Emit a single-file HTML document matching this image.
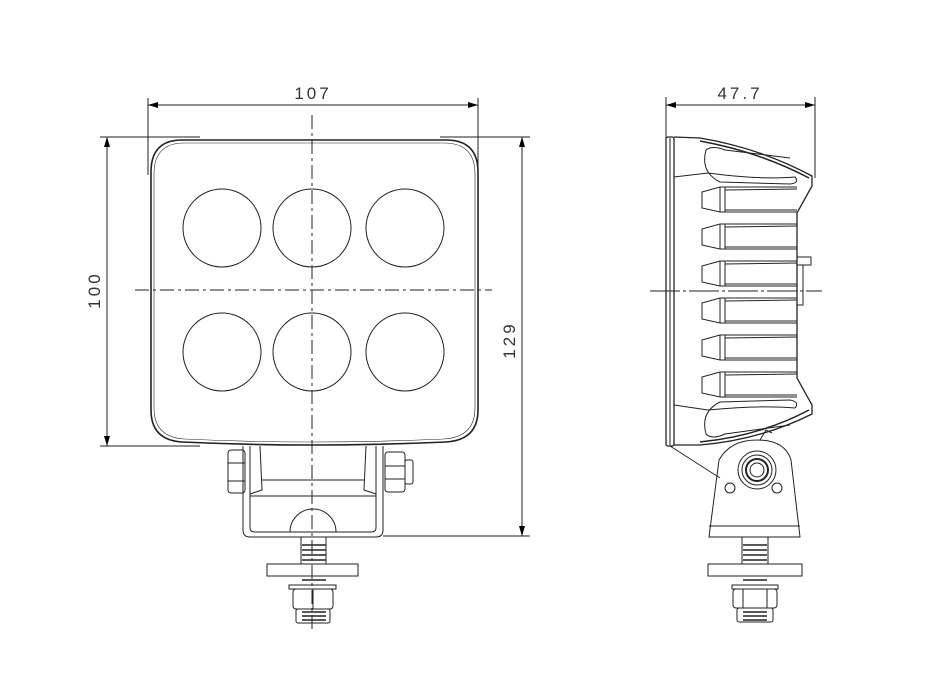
<!DOCTYPE html>
<html><head><meta charset="utf-8"><style>html,body{margin:0;padding:0;background:#fff}svg{display:block}</style></head>
<body>
<svg width="940" height="683" viewBox="0 0 940 683" xmlns="http://www.w3.org/2000/svg" font-family="Liberation Sans, sans-serif">
<defs><marker id="a" viewBox="0 0 10 6" refX="10" refY="3" markerWidth="14" markerHeight="6" orient="auto-start-reverse" markerUnits="userSpaceOnUse"><path d="M0,0L10,3L0,6z" fill="#000"/></marker></defs>
<g stroke="#222" fill="none" stroke-width="1">
<!-- front dims -->
<line x1="148" y1="98" x2="148" y2="175"/><line x1="478" y1="98" x2="478" y2="175"/>
<line x1="148" y1="105" x2="478" y2="105" marker-start="url(#a)" marker-end="url(#a)"/>
<line x1="100" y1="137" x2="200" y2="137"/><line x1="100" y1="446" x2="200" y2="446"/>
<line x1="107" y1="137" x2="107" y2="446" marker-start="url(#a)" marker-end="url(#a)"/>
<line x1="440" y1="137" x2="530" y2="137"/><line x1="383" y1="536" x2="530" y2="536"/>
<line x1="522" y1="137" x2="522" y2="536" marker-start="url(#a)" marker-end="url(#a)"/>
<!-- housing -->
<path d="M182,140 L446,140 Q478,140 478,172 L478,410 Q478,440 446,442 Q312,448 182,442 Q151,440 151,410 L151,172 Q151,140 182,140Z" stroke-width="1.6"/>
<path d="M184,143 L444,143 Q475,143 475,174 L475,408 Q475,437 444,439 Q312,445 184,439 Q154,437 154,408 L154,174 Q154,143 184,143Z" stroke-width="0.6"/>
<circle cx="222" cy="228" r="39"/><circle cx="312" cy="228" r="39"/><circle cx="405" cy="228" r="39"/>
<circle cx="222" cy="352" r="39"/><circle cx="312" cy="352" r="39"/><circle cx="405" cy="352" r="39"/>
<line x1="312" y1="115" x2="312" y2="632" stroke-dasharray="14,4,3,4"/>
<line x1="135" y1="290" x2="492" y2="290" stroke-dasharray="14,4,3,4"/>
<!-- bracket -->
<path d="M243,446 L243,530 Q243,537 250,537 L376,537 Q383,537 383,530 L383,446"/>
<path d="M250,446 L250,528 Q250,532 255,532 L371,532 Q376,532 376,528 L376,446"/>
<line x1="250" y1="496" x2="376" y2="496"/><line x1="262" y1="480" x2="364" y2="480"/>
<path d="M260,446 L262,490 L250,494"/><path d="M366,446 L364,490 L376,494"/>
<path d="M290,532 A23,23 0 0 1 336,532"/>
<rect x="228" y="450" width="17" height="43" rx="3"/><line x1="228" y1="463" x2="245" y2="463"/><line x1="228" y1="481" x2="245" y2="481"/>
<rect x="385" y="452" width="20" height="40" rx="3"/><line x1="385" y1="466" x2="405" y2="466"/><line x1="385" y1="479" x2="405" y2="479"/>
<rect x="405" y="460" width="8" height="24" rx="2"/>
<!-- stud front -->
<rect x="301" y="537" width="25" height="27"/>
<path d="M302,545h24M302,550h24M302,555h24M302,560h24M302,580h24M302,612h24M302,616h24M302,620h24" stroke-width="1.5"/>
<rect x="267" y="564" width="91" height="12"/>
<rect x="289" y="585" width="47" height="4"/>
<rect x="293" y="589" width="40" height="20" rx="3"/><line x1="313" y1="589" x2="313" y2="609"/>
<rect x="296" y="609" width="34" height="14" rx="2"/>
<!-- side dims -->
<line x1="666" y1="97" x2="666" y2="140"/><line x1="815" y1="97" x2="815" y2="178"/>
<line x1="666" y1="105" x2="815" y2="105" marker-start="url(#a)" marker-end="url(#a)"/>
<line x1="650" y1="291" x2="822" y2="291" stroke-dasharray="30,3,3,3"/>
<!-- side body -->
<rect x="666" y="137" width="8" height="309" rx="2" stroke-width="1.3"/>
<line x1="670" y1="138" x2="670" y2="445"/>
<path d="M674,137 L700,138 Q760,148 812,176 L812,186 L797,213 L797,378 L812,405 L812,414 Q760,440 700,445 L674,445" stroke-width="1.3"/>
<path d="M700,141 Q760,152 809,178" stroke-width="1.5"/>
<path d="M700,442 Q760,436 809,410" stroke-width="1.5"/>
<path d="M674,177 L708,173 Q760,180 795,177 Q800,183 790,184 L720,182 Q700,172 706,150 Q712,145 725,150 L790,158"/>
<path d="M674,405 L708,410 Q760,405 795,408 Q800,402 790,400 L720,402 Q700,412 706,434 Q712,440 725,434 L790,425"/>
<g id="fin"><path d="M797,187 L720,187 L702,192 L702,208 L720,212 L797,212"/><line x1="720" y1="187" x2="720" y2="212"/><line x1="725" y1="187" x2="725" y2="212"/><line x1="725" y1="190" x2="797" y2="189"/><line x1="725" y1="210" x2="797" y2="210"/></g>
<use href="#fin" y="37"/><use href="#fin" y="74"/><use href="#fin" y="111"/><use href="#fin" y="148"/><use href="#fin" y="185"/>
<rect x="797" y="257" width="14" height="8"/><rect x="797" y="265" width="6" height="40"/>
<!-- side mount -->
<path d="M670,446 L720,478"/>
<path d="M709,537 L719,460 Q730,440 757,440 Q785,440 791,460 L800,537 Z"/>
<line x1="709" y1="526" x2="800" y2="526"/>
<circle cx="757" cy="470" r="19"/><circle cx="757" cy="470" r="15"/><circle cx="757" cy="470" r="11" stroke-width="2"/><circle cx="757" cy="470" r="7"/>
<circle cx="730" cy="488" r="5"/><circle cx="777" cy="488" r="5"/>
<path d="M760,440 L766,430 L772,433"/>
<rect x="742" y="537" width="26" height="27"/>
<path d="M743,545h24M743,550h24M743,555h24M743,560h24M743,580h24M743,612h24M743,616h24M743,620h24" stroke-width="1.5"/>
<rect x="708" y="564" width="94" height="12"/>
<rect x="732" y="585" width="46" height="4"/>
<rect x="733" y="589" width="44" height="19" rx="3"/><line x1="743" y1="589" x2="743" y2="608"/><line x1="767" y1="589" x2="767" y2="608"/>
<rect x="737" y="608" width="36" height="14" rx="2"/>
</g>
<g fill="#333" font-size="17" letter-spacing="3">
<text x="313" y="99" text-anchor="middle">107</text>
<text x="740" y="99" text-anchor="middle">47.7</text>
<text transform="translate(100,290) rotate(-90)" text-anchor="middle">100</text>
<text transform="translate(515,340) rotate(-90)" text-anchor="middle">129</text>
</g>
</svg>
</body></html>
